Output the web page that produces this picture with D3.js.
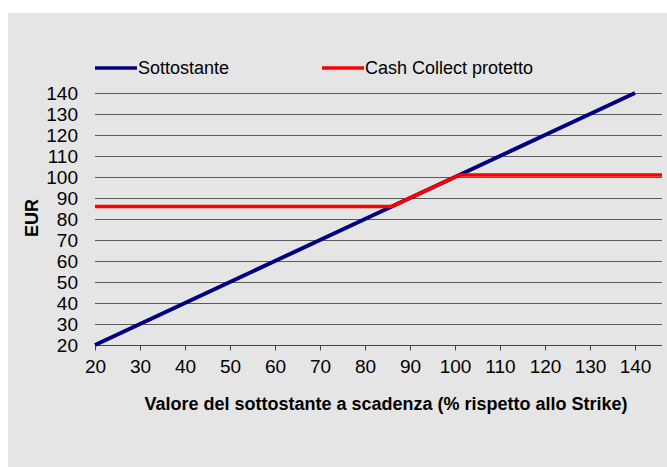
<!DOCTYPE html>
<html>
<head>
<meta charset="utf-8">
<script src="https://cdn.jsdelivr.net/npm/d3@7"></script>
<style>
  body { margin: 0; background: #fff; }
  svg text { font-family: "Liberation Sans", Arial, sans-serif; fill: #000; }
</style>
</head>
<body>
<div id="chart"></div>
<script>
// Data
const xTicks = [20, 30, 40, 50, 60, 70, 80, 90, 100, 110, 120, 130, 140];
const yTicks = [20, 30, 40, 50, 60, 70, 80, 90, 100, 110, 120, 130, 140];
const sottostanteX = [20, 30, 40, 50, 60, 70, 80, 90, 100, 110, 120, 130, 140];
const sottostanteY = [20, 30, 40, 50, 60, 70, 80, 90, 100, 110, 120, 130, 140];
const cashX = [20, 86, 101, 146];
const cashY = [86, 86, 101, 101];

const width = 667, height = 467;

const svg = d3.select("#chart").append("svg")
  .attr("width", width)
  .attr("height", height);

// gray panel
svg.append("rect")
  .attr("x", 8).attr("y", 13)
  .attr("width", width - 8).attr("height", height - 13)
  .attr("fill", "#e5e5e5");

const x = d3.scaleLinear().domain([20, 146]).range([95, 662]);
const y = d3.scaleLinear().domain([20, 140]).range([345, 93]);

// gridlines
svg.append("g")
  .selectAll("line")
  .data(yTicks)
  .enter()
  .append("line")
  .attr("x1", x(20)).attr("x2", x(146))
  .attr("y1", d => Math.round(y(d)) + 0.5)
  .attr("y2", d => Math.round(y(d)) + 0.5)
  .attr("stroke", d => d === 20 ? "#444" : "#5a5a5a")
  .attr("stroke-width", 1);

// y labels
svg.append("g")
  .selectAll("text")
  .data(yTicks)
  .enter()
  .append("text")
  .attr("x", 78)
  .attr("y", d => y(d))
  .attr("dy", "0.36em")
  .attr("text-anchor", "end")
  .style("font-size", "19px")
  .text(d => d);

// x axis
const xAxis = svg.append("g")
  .attr("transform", `translate(0,${Math.round(y(20)) + 0.5})`)
  .call(d3.axisBottom(x).tickValues(xTicks).tickSize(5).tickSizeOuter(0).tickPadding(9));
xAxis.select(".domain").remove();
xAxis.selectAll(".tick line").attr("stroke", "#444");
xAxis.selectAll(".tick text")
  .style("font-size", "19px")
  .style("font-family", '"Liberation Sans", Arial, sans-serif')
  .attr("fill", "#000");

// lines
const line = d3.line().x(d => x(d[0])).y(d => y(d[1]));

svg.append("path")
  .datum(sottostanteX.map((v, i) => [v, sottostanteY[i]]))
  .attr("d", line)
  .attr("fill", "none")
  .attr("stroke", "#000080")
  .attr("stroke-width", 4);

svg.append("path")
  .datum(cashX.map((v, i) => [v, cashY[i]]))
  .attr("d", line)
  .attr("fill", "none")
  .attr("stroke", "#ff0000")
  .attr("stroke-width", 3.5);

// legend
const legend = [
  { name: "Sottostante", color: "#000080", x: 95 },
  { name: "Cash Collect protetto", color: "#ff0000", x: 322 }
];
const lg = svg.append("g").selectAll("g").data(legend).enter().append("g");
lg.append("line")
  .attr("x1", d => d.x).attr("x2", d => d.x + 42)
  .attr("y1", 68).attr("y2", 68)
  .attr("stroke", d => d.color)
  .attr("stroke-width", 3.5);
lg.append("text")
  .attr("x", d => d.x + 43)
  .attr("y", 68)
  .attr("dy", "0.36em")
  .style("font-size", "18px")
  .text(d => d.name);

// axis titles
svg.append("text")
  .attr("x", 386)
  .attr("y", 410)
  .attr("text-anchor", "middle")
  .style("font-size", "18px")
  .style("font-weight", "bold")
  .text("Valore del sottostante a scadenza (% rispetto allo Strike)");

svg.append("text")
  .attr("transform", "translate(38,218) rotate(-90)")
  .attr("text-anchor", "middle")
  .style("font-size", "18px")
  .style("font-weight", "bold")
  .text("EUR");
</script>
</body>
</html>
